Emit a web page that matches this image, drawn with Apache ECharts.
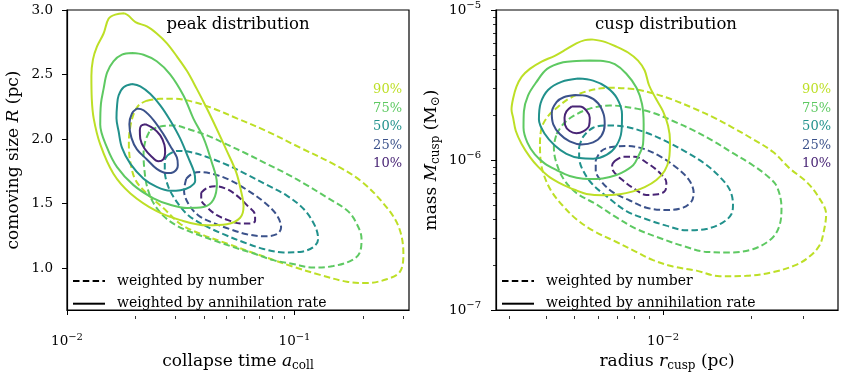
<!DOCTYPE html>
<html lang="en">
<head>
<meta charset="UTF-8">
<title>peak and cusp distributions</title>
<script src="https://cdn.jsdelivr.net/npm/echarts@6/dist/echarts.min.js"></script>
<style>
  html, body { margin: 0; padding: 0; background: #fff; }
  #chart { width: 843px; height: 377px; }
</style>
</head>
<body>
<div id="chart"></div>
<script>
// contour levels (enclosed fraction) and their colours
var levels = ['90%', '75%', '50%', '25%', '10%'];
var levelColors = ['#bddf26', '#5ec962', '#21918c', '#3b528b', '#482475'];

// ---- peak distribution: [collapse time a_coll, comoving size R (pc)]
// weighted by annihilation rate (solid)
var peakRate90 = [[0.0179,2.974],[0.0186,2.957],[0.0200,2.906],[0.02245,2.873],[0.0248,2.818],[0.0275,2.742],[0.0304,2.641],[0.0337,2.527],[0.0372,2.389],[0.0412,2.237],[0.0453,2.086],[0.0504,1.909],[0.0554,1.745],[0.0583,1.593],[0.0597,1.480],[0.0577,1.391],[0.0504,1.341],[0.0412,1.333],[0.0315,1.373],[0.0248,1.442],[0.0190,1.580],[0.0160,1.732],[0.0140,1.959],[0.0131,2.161],[0.01285,2.313],[0.0128,2.489],[0.0130,2.616],[0.01354,2.717],[0.01448,2.818],[0.01523,2.932],[0.0163,2.964]];
var peakRate75 = [[0.0193,2.667],[0.0217,2.654],[0.0248,2.603],[0.0284,2.502],[0.0325,2.338],[0.0359,2.161],[0.0398,2.010],[0.0430,1.836],[0.0456,1.656],[0.0440,1.530],[0.0398,1.474],[0.0337,1.467],[0.0284,1.492],[0.0240,1.542],[0.0196,1.644],[0.0166,1.783],[0.0150,1.934],[0.0140,2.111],[0.0141,2.275],[0.01448,2.389],[0.0150,2.515],[0.0160,2.603],[0.01744,2.654]];
var peakRate50 = [[0.0193,2.427],[0.0210,2.409],[0.0232,2.351],[0.0257,2.262],[0.0284,2.146],[0.0315,2.002],[0.0341,1.858],[0.0362,1.745],[0.0366,1.677],[0.0348,1.631],[0.0315,1.605],[0.0284,1.601],[0.0248,1.631],[0.0217,1.694],[0.0190,1.808],[0.01744,1.934],[0.01686,2.061],[0.0165,2.161],[0.0166,2.262],[0.01686,2.338],[0.01773,2.402]];
var peakRate25 = [[0.0203,2.237],[0.0217,2.224],[0.0240,2.148],[0.0266,2.035],[0.0284,1.949],[0.0304,1.858],[0.0307,1.798],[0.0294,1.745],[0.0275,1.737],[0.0248,1.770],[0.02245,1.843],[0.0203,1.921],[0.0192,2.010],[0.0188,2.116],[0.0193,2.199]];
var peakRate10 = [[0.0221,2.116],[0.0240,2.082],[0.0257,2.029],[0.0268,1.957],[0.0270,1.896],[0.0265,1.843],[0.0252,1.828],[0.0235,1.866],[0.0219,1.927],[0.0210,2.002],[0.0209,2.070],[0.0212,2.105]];
// weighted by number (dashed)
var peakNumber90 = [[0.02245,2.298],[0.0257,2.313],[0.0294,2.313],[0.0360,2.288],[0.0440,2.237],[0.0558,2.161],[0.0756,2.061],[0.1058,1.934],[0.148,1.808],[0.194,1.682],[0.246,1.502],[0.286,1.328],[0.301,1.116],[0.291,0.974],[0.254,0.915],[0.208,0.886],[0.170,0.896],[0.1295,0.949],[0.0989,1.012],[0.0706,1.101],[0.0504,1.192],[0.0385,1.267],[0.0315,1.343],[0.0266,1.464],[0.02245,1.578],[0.0200,1.684],[0.0190,1.820],[0.0187,1.972],[0.0190,2.101],[0.01975,2.207],[0.0208,2.267]];
var peakNumber75 = [[0.0232,2.070],[0.0257,2.098],[0.0294,2.106],[0.0348,2.073],[0.0418,2.025],[0.0504,1.959],[0.0613,1.889],[0.0756,1.808],[0.0928,1.730],[0.1132,1.644],[0.139,1.548],[0.170,1.449],[0.186,1.358],[0.197,1.230],[0.194,1.126],[0.179,1.063],[0.148,1.017],[0.121,1.006],[0.0986,1.033],[0.0808,1.063],[0.0658,1.116],[0.0539,1.164],[0.0439,1.218],[0.0360,1.273],[0.0305,1.328],[0.0266,1.404],[0.0240,1.505],[0.0225,1.631],[0.0219,1.758],[0.0217,1.883],[0.0221,1.985]];
var peakNumber50 = [[0.0276,1.873],[0.0304,1.909],[0.0348,1.900],[0.0412,1.862],[0.0504,1.802],[0.0617,1.726],[0.0756,1.646],[0.0925,1.563],[0.110,1.457],[0.123,1.328],[0.127,1.226],[0.121,1.164],[0.1058,1.127],[0.0894,1.123],[0.0730,1.150],[0.0597,1.202],[0.0487,1.264],[0.0398,1.336],[0.0341,1.411],[0.0305,1.510],[0.0279,1.631],[0.0269,1.758],[0.0269,1.836]];
var peakNumber25 = [[0.0334,1.692],[0.0355,1.733],[0.0385,1.745],[0.0440,1.730],[0.0522,1.682],[0.0617,1.608],[0.0730,1.517],[0.0836,1.411],[0.0873,1.315],[0.0836,1.264],[0.0730,1.248],[0.0617,1.264],[0.0522,1.302],[0.0440,1.351],[0.0377,1.411],[0.0341,1.502],[0.0327,1.601]];
var peakNumber10 = [[0.0389,1.586],[0.0413,1.623],[0.0448,1.635],[0.0506,1.612],[0.0565,1.555],[0.0619,1.487],[0.0671,1.411],[0.0671,1.366],[0.0638,1.347],[0.0577,1.347],[0.0511,1.373],[0.0456,1.411],[0.0413,1.472],[0.0389,1.533]];

// ---- cusp distribution: [radius r_cusp (pc), mass M_cusp (Msun)]
var cuspRate90 = [[0.00571,6.37e-6],[0.00625,6.18e-6],[0.00694,5.70e-6],[0.0076,5.21e-6],[0.00822,4.60e-6],[0.00866,3.95e-6],[0.00896,3.15e-6],[0.00944,2.58e-6],[0.0100,2.11e-6],[0.0104,1.69e-6],[0.01056,1.34e-6],[0.01048,1.02e-6],[0.01013,8.48e-7],[0.00949,7.36e-7],[0.00866,6.59e-7],[0.00791,6.18e-7],[0.00712,5.91e-7],[0.00625,5.82e-7],[0.00549,5.94e-7],[0.00507,6.27e-7],[0.00457,6.83e-7],[0.00412,7.66e-7],[0.00376,9.00e-7],[0.00352,1.05e-6],[0.0033,1.28e-6],[0.003154,1.56e-6],[0.003089,1.91e-6],[0.003049,2.17e-6],[0.003089,2.58e-6],[0.00317,3.08e-6],[0.0033,3.58e-6],[0.00352,4.05e-6],[0.00386,4.53e-6],[0.00428,4.95e-6],[0.00469,5.48e-6],[0.00507,6.00e-6],[0.00542,6.30e-6]];
var cuspRate75 = [[0.00563,4.60e-6],[0.00625,4.57e-6],[0.00685,4.35e-6],[0.0075,3.76e-6],[0.00812,3.03e-6],[0.00848,2.36e-6],[0.00859,1.73e-6],[0.00855,1.28e-6],[0.00822,1.05e-6],[0.00791,9.23e-7],[0.00722,8.22e-7],[0.00659,7.70e-7],[0.00593,7.48e-7],[0.00535,7.51e-7],[0.00481,7.82e-7],[0.00434,8.56e-7],[0.00396,9.46e-7],[0.00366,1.09e-6],[0.00345,1.31e-6],[0.00335,1.64e-6],[0.00336,2.11e-6],[0.00347,2.69e-6],[0.00371,3.32e-6],[0.00403,4.05e-6],[0.00457,4.48e-6],[0.00507,4.57e-6]];
var cuspRate50 = [[0.00514,3.49e-6],[0.00578,3.38e-6],[0.00642,3.06e-6],[0.00697,2.58e-6],[0.00725,2.01e-6],[0.00722,1.56e-6],[0.00694,1.25e-6],[0.00642,1.08e-6],[0.00578,1.02e-6],[0.00521,1.03e-6],[0.00469,1.10e-6],[0.00428,1.25e-6],[0.00396,1.49e-6],[0.00378,1.86e-6],[0.00383,2.39e-6],[0.00406,2.93e-6],[0.00451,3.32e-6]];
var cuspRate25 = [[0.00501,2.71e-6],[0.00556,2.65e-6],[0.00601,2.39e-6],[0.00628,2.01e-6],[0.00633,1.73e-6],[0.00617,1.45e-6],[0.00578,1.31e-6],[0.00528,1.27e-6],[0.00481,1.33e-6],[0.00445,1.49e-6],[0.00423,1.73e-6],[0.00418,2.06e-6],[0.00434,2.43e-6],[0.00459,2.62e-6]];
var cuspRate10 = [[0.00488,2.27e-6],[0.00521,2.27e-6],[0.00549,2.13e-6],[0.00563,1.91e-6],[0.0056,1.69e-6],[0.00535,1.55e-6],[0.00507,1.51e-6],[0.00481,1.56e-6],[0.00464,1.71e-6],[0.00462,1.91e-6],[0.00469,2.11e-6]];
var cuspNumber90 = [[0.00381,1.28e-6],[0.00386,1.64e-6],[0.00406,1.96e-6],[0.00434,2.22e-6],[0.00481,2.58e-6],[0.00563,2.91e-6],[0.00659,3.03e-6],[0.00791,2.97e-6],[0.00925,2.78e-6],[0.01081,2.52e-6],[0.01265,2.22e-6],[0.01479,1.93e-6],[0.0173,1.64e-6],[0.0202,1.38e-6],[0.0237,1.13e-6],[0.0270,8.78e-7],[0.0307,7.18e-7],[0.0337,5.73e-7],[0.0359,4.35e-7],[0.0352,3.30e-7],[0.0341,2.70e-7],[0.0315,2.27e-7],[0.0284,2.00e-7],[0.0237,1.79e-7],[0.0192,1.69e-7],[0.01558,1.68e-7],[0.01299,1.83e-7],[0.01081,1.95e-7],[0.00925,2.15e-7],[0.00791,2.50e-7],[0.00694,2.84e-7],[0.00578,3.38e-7],[0.00507,4.03e-7],[0.00457,4.93e-7],[0.00417,6.18e-7],[0.00393,7.94e-7],[0.00383,9.95e-7]];
var cuspNumber75 = [[0.00434,1.49e-6],[0.00457,1.73e-6],[0.00494,1.96e-6],[0.00563,2.20e-6],[0.00659,2.31e-6],[0.00791,2.22e-6],[0.00925,2.06e-6],[0.01081,1.82e-6],[0.01265,1.58e-6],[0.01479,1.34e-6],[0.0173,1.11e-6],[0.0202,9.23e-7],[0.0228,7.74e-7],[0.0244,6.66e-7],[0.0253,4.81e-7],[0.0249,3.65e-7],[0.0234,2.99e-7],[0.0202,2.54e-7],[0.01686,2.42e-7],[0.01404,2.44e-7],[0.0117,2.67e-7],[0.00974,3.02e-7],[0.00812,3.47e-7],[0.00694,4.14e-7],[0.00593,5.06e-7],[0.00507,6.03e-7],[0.00457,7.55e-7],[0.00431,9.95e-7],[0.00425,1.22e-6]];
var cuspNumber50 = [[0.00518,1.22e-6],[0.00535,1.43e-6],[0.00578,1.64e-6],[0.00642,1.70e-6],[0.0075,1.66e-6],[0.00878,1.52e-6],[0.01026,1.33e-6],[0.0120,1.13e-6],[0.01386,9.46e-7],[0.01558,7.74e-7],[0.01686,6.34e-7],[0.0173,5.06e-7],[0.01708,4.35e-7],[0.0160,3.84e-7],[0.01404,3.47e-7],[0.0120,3.40e-7],[0.01026,3.65e-7],[0.00878,4.03e-7],[0.0075,4.57e-7],[0.00642,5.73e-7],[0.00571,7.00e-7],[0.0053,8.78e-7],[0.00518,1.05e-6]];
var cuspNumber25 = [[0.0059,9.95e-7],[0.00617,1.15e-6],[0.00667,1.22e-6],[0.0075,1.24e-6],[0.00855,1.19e-6],[0.00974,1.06e-6],[0.0111,8.91e-7],[0.01226,7.36e-7],[0.01271,6.03e-7],[0.01249,5.29e-7],[0.0117,4.81e-7],[0.01026,4.64e-7],[0.00878,4.81e-7],[0.0077,5.37e-7],[0.00676,6.09e-7],[0.00617,7.18e-7],[0.0059,8.56e-7]];
var cuspNumber10 = [[0.00685,9.85e-7],[0.00731,1.05e-6],[0.00801,1.05e-6],[0.00889,9.46e-7],[0.00974,8.22e-7],[0.01026,7.07e-7],[0.01018,6.27e-7],[0.00962,5.91e-7],[0.00878,5.85e-7],[0.00801,6.40e-7],[0.00722,7.44e-7],[0.00676,8.48e-7],[0.00671,9.23e-7]];

// ticks
var peakXMajor = [0.01, 0.1];
var peakXMinor = [0.02, 0.03, 0.04, 0.05, 0.06, 0.07, 0.08, 0.09, 0.2, 0.3];
var peakYTicks = [1.0, 1.5, 2.0, 2.5, 3.0];
var cuspXMajor = [0.01];
var cuspXMinor = [0.003, 0.004, 0.005, 0.006, 0.007, 0.008, 0.009, 0.02, 0.03];
var cuspYMajor = [1e-7, 1e-6, 1e-5];
var cuspYMinor = [2e-7, 3e-7, 4e-7, 5e-7, 6e-7, 7e-7, 8e-7, 9e-7, 2e-6, 3e-6, 4e-6, 5e-6, 6e-6, 7e-6, 8e-6, 9e-6];

var legendNames = ['weighted by number', 'weighted by annihilation rate'];

var FONT = 'DejaVu Serif';
var DASH = [6.5, 3.3];
var GRID_W = 342, GRID_H = 306;

function powLabel(v) {
    var e = Math.round(Math.log10(v));
    return '{b|10}{s|' + (e < 0 ? '\u2212' : '') + Math.abs(e) + '}';
}

var tickRich = {
    b: { fontFamily: FONT, fontSize: 13.5, color: '#000' },
    s: { fontFamily: FONT, fontSize: 10, color: '#000', padding: [0, 0, 9, 0] }
};
var nameRich = {
    i: { fontFamily: FONT, fontSize: 17, fontStyle: 'italic', color: '#000' },
    sub: { fontFamily: FONT, fontSize: 12, color: '#000', padding: [8, 0, 0, 0] }
};

function mainAxis(grid, type, min, max, ticks, fmt, name, gap, margin) {
    return {
        gridIndex: grid, type: type, min: min, max: max, logBase: 10,
        name: name, nameLocation: 'middle', nameGap: gap,
        nameTextStyle: { fontFamily: FONT, fontSize: 17, color: '#000', rich: nameRich },
        axisLine: { show: true, onZero: false, lineStyle: { color: '#000', width: 1.2 } },
        axisTick: { show: true, length: 5, customValues: ticks, lineStyle: { color: '#000', width: 1 } },
        axisLabel: { customValues: ticks, formatter: fmt, margin: margin, fontFamily: FONT, fontSize: 13.5, color: '#000', rich: tickRich },
        splitLine: { show: false }
    };
}

// minor ticks: a second axis put on the opposite side, shifted back over the main one,
// with its ticks turned inward so they point out of the plot
function minorAxis(grid, pos, shift, min, max, ticks) {
    return {
        gridIndex: grid, position: pos, offset: -shift, type: 'log', min: min, max: max, logBase: 10,
        axisLine: { show: false, onZero: false },
        axisTick: { show: true, inside: true, length: 3, customValues: ticks, lineStyle: { color: '#000', width: 0.8 } },
        axisLabel: { show: false },
        splitLine: { show: false }
    };
}

function contour(data, xi, yi, lvl, dashed) {
    return {
        type: 'line', xAxisIndex: xi, yAxisIndex: yi,
        data: data.concat([data[0]]),
        smooth: 0.35, symbol: 'none', silent: true,
        lineStyle: { color: levelColors[lvl], width: 2, type: dashed ? DASH : 'solid' },
        z: dashed ? 2 : 3
    };
}

var peakRate = [peakRate90, peakRate75, peakRate50, peakRate25, peakRate10];
var peakNumber = [peakNumber90, peakNumber75, peakNumber50, peakNumber25, peakNumber10];
var cuspRate = [cuspRate90, cuspRate75, cuspRate50, cuspRate25, cuspRate10];
var cuspNumber = [cuspNumber90, cuspNumber75, cuspNumber50, cuspNumber25, cuspNumber10];

var series = [];
for (var k = 0; k < levels.length; k++) {
    series.push(contour(peakNumber[k], 0, 0, k, true));
    series.push(contour(peakRate[k], 0, 0, k, false));
    series.push(contour(cuspNumber[k], 2, 1, k, true));
    series.push(contour(cuspRate[k], 2, 1, k, false));
}
// empty series that only feed the legends
series.push({ name: legendNames[0], type: 'line', xAxisIndex: 0, yAxisIndex: 0, data: [], symbol: 'none',
    lineStyle: { color: '#000', width: 2.2, type: DASH }, itemStyle: { color: '#000' } });
series.push({ name: legendNames[1], type: 'line', xAxisIndex: 0, yAxisIndex: 0, data: [], symbol: 'none',
    lineStyle: { color: '#000', width: 2.6 }, itemStyle: { color: '#000' } });

function legendAt(left) {
    return {
        left: left, top: 274, orient: 'vertical', data: legendNames, padding: 0,
        itemWidth: 32, itemHeight: 14, itemGap: 8.7, selectedMode: false,
        itemStyle: { opacity: 0 },
        textStyle: { fontFamily: FONT, fontSize: 14, color: '#000', padding: [0, 0, 0, 7] }
    };
}

var graphics = [];
var panelTitles = [['peak distribution', 238], ['cusp distribution', 666]];
panelTitles.forEach(function (t) {
    graphics.push({ type: 'text', x: t[1], y: 25, style: { text: t[0], fontFamily: FONT, fontSize: 16.5, fill: '#000', textAlign: 'center', textVerticalAlign: 'middle' } });
});
[402, 831].forEach(function (xr) {
    levels.forEach(function (lab, i) {
        graphics.push({ type: 'text', x: xr, y: 90 + i * 18.5, style: { text: lab, fontFamily: FONT, fontSize: 13, fill: levelColors[i], textAlign: 'right', textVerticalAlign: 'middle' } });
    });
});

var chart = echarts.init(document.getElementById('chart'));
chart.setOption({
    animation: false,
    backgroundColor: '#fff',
    grid: [
        { left: 67, top: 10, width: GRID_W, height: GRID_H, show: true, borderColor: '#000', borderWidth: 1.2, backgroundColor: 'transparent' },
        { left: 496, top: 10, width: GRID_W, height: GRID_H, show: true, borderColor: '#000', borderWidth: 1.2, backgroundColor: 'transparent' }
    ],
    xAxis: [
        mainAxis(0, 'log', 0.01, 0.3186, peakXMajor, powLabel, 'collapse time {i|a}{sub|coll}', 42, 22),
        minorAxis(0, 'top', GRID_H, 0.01, 0.3186, peakXMinor),
        mainAxis(1, 'log', 0.0027, 0.0394, cuspXMajor, powLabel, 'radius {i|r}{sub|cusp} (pc)', 42, 22),
        minorAxis(1, 'top', GRID_H, 0.0027, 0.0394, cuspXMinor)
    ],
    yAxis: [
        mainAxis(0, 'value', 0.677, 3.0, peakYTicks, function (v) { return v.toFixed(1); }, 'comoving size {i|R} (pc)', 45, 14),
        mainAxis(1, 'log', 1e-7, 1e-5, cuspYMajor, powLabel, 'mass {i|M}{sub|cusp} (M{sub|\u2299})', 54, 15),
        minorAxis(1, 'right', GRID_W, 1e-7, 1e-5, cuspYMinor)
    ],
    legend: [legendAt(72), legendAt(501)],
    graphic: graphics,
    series: series
});
</script>
</body>
</html>
